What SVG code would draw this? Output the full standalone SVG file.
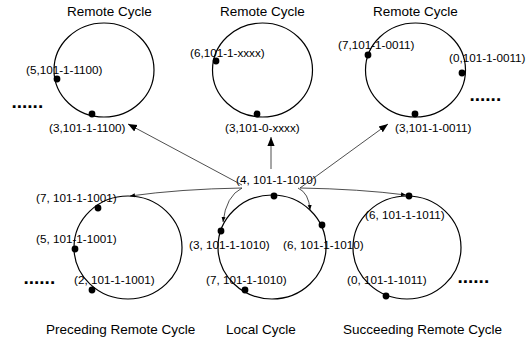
<svg xmlns="http://www.w3.org/2000/svg" width="532" height="343" viewBox="0 0 532 343">
<style>
.cyc{fill:none;stroke:#000;stroke-width:1.2}
.dot{fill:#000}
.lbl{font-family:"Liberation Sans",Arial,sans-serif;font-size:11.7px;fill:#000}
.ttl{font-family:"Liberation Sans",Arial,sans-serif;font-size:13.5px;fill:#000}
.ell{font-family:"Liberation Sans",Arial,sans-serif;font-size:19px;font-weight:bold;fill:#000}
.con{fill:none;stroke:#222;stroke-width:0.8}
</style>
<defs>
<marker id="ah" viewBox="0 0 10 10" refX="10" refY="5" markerWidth="9" markerHeight="9" markerUnits="userSpaceOnUse" orient="auto">
<path d="M0,1 L10,5 L0,9 z" fill="#000"/>
</marker>
<marker id="ahs" viewBox="0 0 10 10" refX="10" refY="5" markerWidth="5" markerHeight="5" markerUnits="userSpaceOnUse" orient="auto">
<path d="M0,1 L10,5 L0,9 z" fill="#000"/>
</marker>
</defs>
<g id="remote1">
<text class="ttl" x="67" y="16">Remote Cycle</text>
<ellipse class="cyc" cx="104" cy="70" rx="50" ry="47"/>
<circle class="dot" cx="57" cy="79" r="3.4"/>
<circle class="dot" cx="92" cy="114" r="3.4"/>
<text class="lbl" x="26" y="74">(5,101-1-1100)</text>
<text class="lbl" x="49" y="132">(3,101-1-1100)</text>
<text class="ell" x="11.5" y="107.5">......</text>
</g>
<g id="remote2">
<text class="ttl" x="220" y="16">Remote Cycle</text>
<ellipse class="cyc" cx="262.5" cy="70" rx="50" ry="47"/>
<circle class="dot" cx="216" cy="61" r="3.4"/>
<circle class="dot" cx="257" cy="114" r="3.4"/>
<text class="lbl" x="190" y="57">(6,101-1-xxxx)</text>
<text class="lbl" x="225" y="132">(3,101-0-xxxx)</text>
</g>
<g id="remote3">
<text class="ttl" x="373" y="16">Remote Cycle</text>
<ellipse class="cyc" cx="415.5" cy="70" rx="50" ry="47"/>
<circle class="dot" cx="368" cy="55" r="3.4"/>
<circle class="dot" cx="462" cy="73" r="3.4"/>
<circle class="dot" cx="415" cy="114" r="3.4"/>
<text class="lbl" x="338" y="49">(7,101-1-0011)</text>
<text class="lbl" x="449" y="62">(0,101-1-0011)</text>
<text class="lbl" x="395" y="132">(3,101-1-0011)</text>
<text class="ell" x="469.5" y="100.5">......</text>
</g>
<g id="preceding">
<ellipse class="cyc" cx="128" cy="247.5" rx="54" ry="51.5"/>
<circle class="dot" cx="98" cy="208" r="3.4"/>
<circle class="dot" cx="75" cy="249" r="3.4"/>
<circle class="dot" cx="92" cy="290" r="3.4"/>
<text class="lbl" x="36" y="202">(7, 101-1-1001)</text>
<text class="lbl" x="36" y="243">(5, 101-1-1001)</text>
<text class="lbl" x="74" y="284">(2, 101-1-1001)</text>
<text class="ell" x="23.5" y="283.5">......</text>
<text class="ttl" x="46" y="334">Preceding Remote Cycle</text>
</g>
<g id="local">
<ellipse class="cyc" cx="272" cy="247" rx="54" ry="52"/>
<circle class="dot" cx="274" cy="196" r="3.4"/>
<circle class="dot" cx="221" cy="231" r="3.4"/>
<circle class="dot" cx="322" cy="225" r="3.4"/>
<circle class="dot" cx="245" cy="290" r="3.4"/>
<text class="lbl" x="236" y="184">(4, 101-1-1010)</text>
<text class="lbl" x="189" y="249">(3, 101-1-1010)</text>
<text class="lbl" x="283" y="249">(6, 101-1-1010)</text>
<text class="lbl" x="206" y="284">(7, 101-1-1010)</text>
<text class="ttl" x="226" y="334">Local Cycle</text>
</g>
<g id="succeeding">
<ellipse class="cyc" cx="407" cy="247.5" rx="54" ry="51.5"/>
<circle class="dot" cx="409" cy="196" r="3.4"/>
<circle class="dot" cx="386" cy="296" r="3.4"/>
<text class="lbl" x="365" y="219">(6, 101-1-1011)</text>
<text class="lbl" x="347" y="284">(0, 101-1-1011)</text>
<text class="ell" x="457.5" y="282.5">......</text>
<text class="ttl" x="343" y="334">Succeeding Remote Cycle</text>
</g>
<g id="connectors">
<path class="con" d="M242,185 L128,124" marker-end="url(#ah)"/>
<path class="con" d="M271,169 L271,137" marker-end="url(#ah)"/>
<path class="con" d="M300,188 L388,124" marker-end="url(#ah)"/>
<path class="con" d="M242,188 Q180,189 130,196" marker-end="url(#ahs)"/>
<path class="con" d="M242,188 Q226,196 223,222" marker-end="url(#ahs)"/>
<path class="con" d="M298,188 Q309,193 310,210" marker-end="url(#ahs)"/>
<path class="con" d="M300,188 Q360,189 406,195" marker-end="url(#ahs)"/>
</g>
</svg>
